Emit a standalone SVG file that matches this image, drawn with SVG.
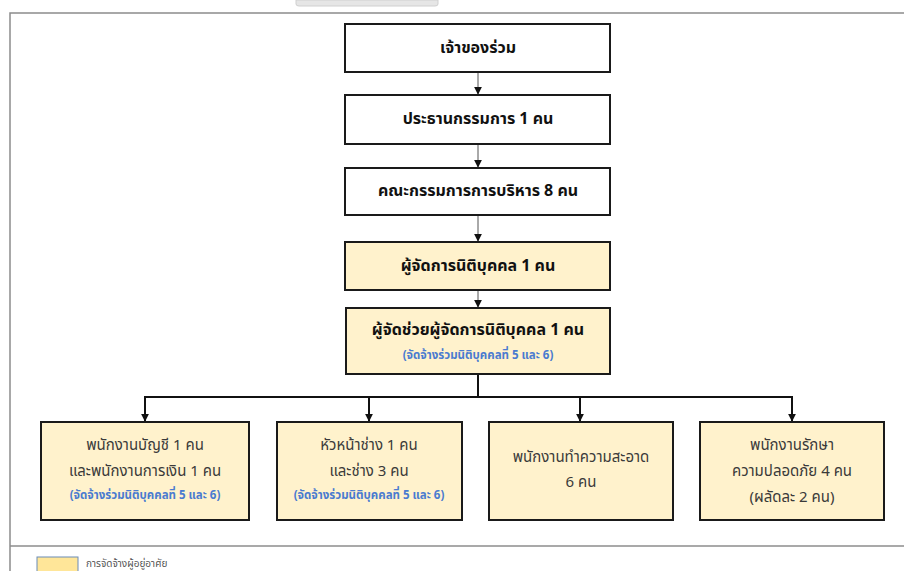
<svg xmlns="http://www.w3.org/2000/svg" width="904" height="571" viewBox="0 0 904 571">
<style>
.frame{fill:none;stroke:#8c8c8c;stroke-width:1.5}
.top{fill:#fff;stroke:#1a1a1a;stroke-width:2}
.mid{fill:#fff2cc;stroke:#1a1a1a;stroke-width:2}
.t{font-family:"Noto Sans Thai","Tahoma","Leelawadee UI","DejaVu Sans",sans-serif;text-anchor:middle;dominant-baseline:central}
.h{font-size:16px;font-weight:bold;fill:#111}
.n{font-size:15px;fill:#3a3a3a}
.b{font-size:11.5px;font-weight:bold;fill:#4a7bd0}
.c1{stroke:#555;stroke-width:1;fill:none}
.c2{stroke:#111;stroke-width:2;fill:none}
</style>
<defs>
<marker id="ah2" viewBox="0 0 10 10" refX="9" refY="5" markerWidth="8" markerHeight="8" markerUnits="userSpaceOnUse" orient="auto">
<path d="M0,0 L10,5 L0,10 Z" fill="#111"/>
</marker>
</defs>
<rect x="0" y="0" width="904" height="571" fill="#fff"/>
<path d="M296,0 L296,4 Q296,6 299,6 L435,6 Q438,6 438,4 L438,0 Z" fill="#e6e6e6" stroke="#d0d0d0" stroke-width="1"/>
<path class="frame" d="M904,13 L10,13 L10,571"/>
<line class="frame" x1="10" y1="546" x2="904" y2="546" stroke-width="1"/>
<g id="connectors">
<line class="c1" x1="478" y1="72" x2="478" y2="94" marker-end="url(#ah2)"/>
<line class="c1" x1="478" y1="144" x2="478" y2="167" marker-end="url(#ah2)"/>
<line class="c1" x1="478" y1="215" x2="478" y2="241" marker-end="url(#ah2)"/>
<line class="c1" x1="478" y1="290" x2="478" y2="307" marker-end="url(#ah2)"/>
<path class="c2" d="M478,374 L478,397 M145,397 L792,397"/>
<line class="c2" x1="145" y1="396" x2="145" y2="421" marker-end="url(#ah2)"/>
<line class="c2" x1="369" y1="396" x2="369" y2="421" marker-end="url(#ah2)"/>
<line class="c2" x1="580" y1="396" x2="580" y2="421" marker-end="url(#ah2)"/>
<line class="c2" x1="792" y1="396" x2="792" y2="421" marker-end="url(#ah2)"/>
</g>
<g id="owner">
<rect class="top" x="345" y="24" width="265" height="48"/>
<text class="t h" x="478" y="48">เจ้าของร่วม</text>
</g>
<g id="chairman">
<rect class="top" x="345" y="95" width="265" height="49"/>
<text class="t h" x="478" y="119">ประธานกรรมการ 1 คน</text>
</g>
<g id="committee">
<rect class="top" x="345" y="168" width="265" height="47"/>
<text class="t h" x="478" y="191">คณะกรรมการการบริหาร 8 คน</text>
</g>
<g id="manager">
<rect class="mid" x="345" y="242" width="265" height="48"/>
<text class="t h" x="478" y="266">ผู้จัดการนิติบุคคล 1 คน</text>
</g>
<g id="asst-manager">
<rect class="mid" x="346" y="308" width="264" height="66"/>
<text class="t h" x="478" y="330">ผู้จัดช่วยผู้จัดการนิติบุคคล 1 คน</text>
<text class="t b" x="478" y="355">(จัดจ้างร่วมนิติบุคคลที่ 5 และ 6)</text>
</g>
<g id="accounting">
<rect class="mid" x="41" y="422" width="208" height="98"/>
<text class="t n" x="145" y="445">พนักงานบัญชี 1 คน</text>
<text class="t n" x="145" y="471">และพนักงานการเงิน 1 คน</text>
<text class="t b" x="145" y="495">(จัดจ้างร่วมนิติบุคคลที่ 5 และ 6)</text>
</g>
<g id="technician">
<rect class="mid" x="277" y="422" width="185" height="98"/>
<text class="t n" x="369" y="445">หัวหน้าช่าง 1 คน</text>
<text class="t n" x="369" y="471">และช่าง 3 คน</text>
<text class="t b" x="369" y="495">(จัดจ้างร่วมนิติบุคคลที่ 5 และ 6)</text>
</g>
<g id="cleaning">
<rect class="mid" x="489" y="422" width="184" height="98"/>
<text class="t n" x="581" y="457">พนักงานทำความสะอาด</text>
<text class="t n" x="581" y="482">6 คน</text>
</g>
<g id="security">
<rect class="mid" x="700" y="422" width="184" height="98"/>
<text class="t n" x="792" y="445">พนักงานรักษา</text>
<text class="t n" x="792" y="471">ความปลอดภัย 4 คน</text>
<text class="t n" x="792" y="497">(ผลัดละ 2 คน)</text>
</g>
<g id="legend">
<rect x="37" y="557" width="41" height="15" fill="#ffe699" stroke="#6b8bb8" stroke-width="1"/>
<text class="t" x="86" y="564" style="text-anchor:start;font-size:10px;fill:#555">การจัดจ้างผู้อยู่อาศัย</text>
</g>
</svg>
